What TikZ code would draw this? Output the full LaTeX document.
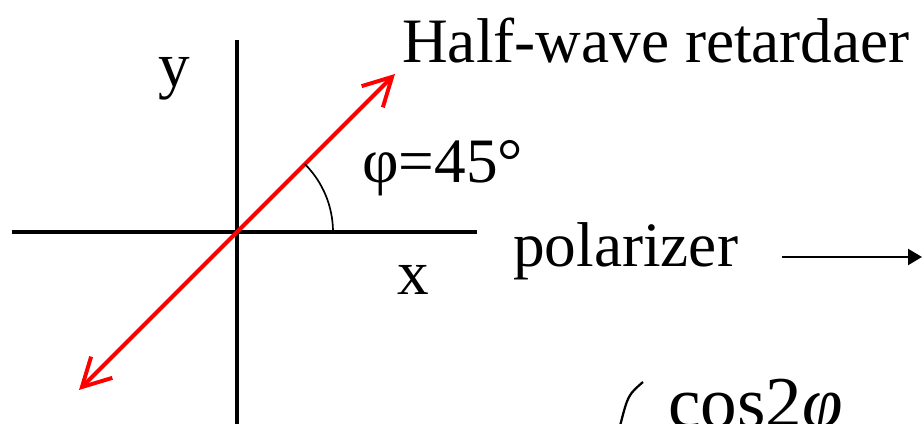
\documentclass[tikz,border=0pt]{standalone}
\usepackage{fontspec}
\setmainfont{Liberation Serif}
\usepackage{tikz}
\usetikzlibrary{arrows.meta,positioning,calc}

\begin{document}
\begin{tikzpicture}[
  lbl/.style={inner sep=0pt, anchor=base west, font=\fontsize{45}{50}\selectfont},
  axis/.style={line width=2.2pt},
  pol/.style={draw=red, line width=2.8pt,
    {Straight Barb[length=7mm, width=7.5mm]}-{Straight Barb[length=7mm, width=7.5mm]}},
  arr/.style={line width=1.6pt, -{Triangle[length=3.5mm, width=4mm]}}
]
\useasboundingbox (0,0) rectangle (23.05,10.6);
% axes
\coordinate (O)  at (5.925,4.8);
\coordinate (XL) at (0.3,4.8);
\coordinate (XR) at (11.925,4.8);
\coordinate (YT) at (5.925,9.6);
\coordinate (YB) at (5.925,-0.1);
\draw[axis] (XL) -- (XR);
\draw[axis] (YB) -- (YT);
% retarder axis at 45 degrees
\coordinate (PA) at ($(O)+(3.95,3.95)$);
\coordinate (PB) at ($(O)+(-3.95,-3.95)$);
\draw[pol] (PB) -- (PA);
\draw[line width=1.2pt] ($(O)+(2.4,0)$) arc[start angle=0, end angle=45, radius=2.4];
% labels
\node[lbl, anchor=base] (ylab) at (4.35,8.425) {y};
\node[lbl, anchor=base] (xlab) at (10.325,3.225) {x};
\node[lbl] (hwr) at (10.05,9.025) {Half-wave retardaer};
\node[lbl] (ang) at (9.05,6.025) {φ=45°};
\node[lbl] (pz) at (12.825,3.925) {polarizer};
\coordinate (AS) at (19.55,4.175);
\coordinate (AE) at (23.05,4.175);
\draw[arr] (AS) -- (AE);
% matrix, cut off
\node[lbl, font=\fontsize{52}{56}\selectfont] (mat) at (16.7,-0.1) {cos2\textit{φ}};
\draw[line width=1.6pt] (16.075,1.05) .. controls (15.7,0.725) .. (15.5,-0.05);
\end{tikzpicture}
\end{document}
